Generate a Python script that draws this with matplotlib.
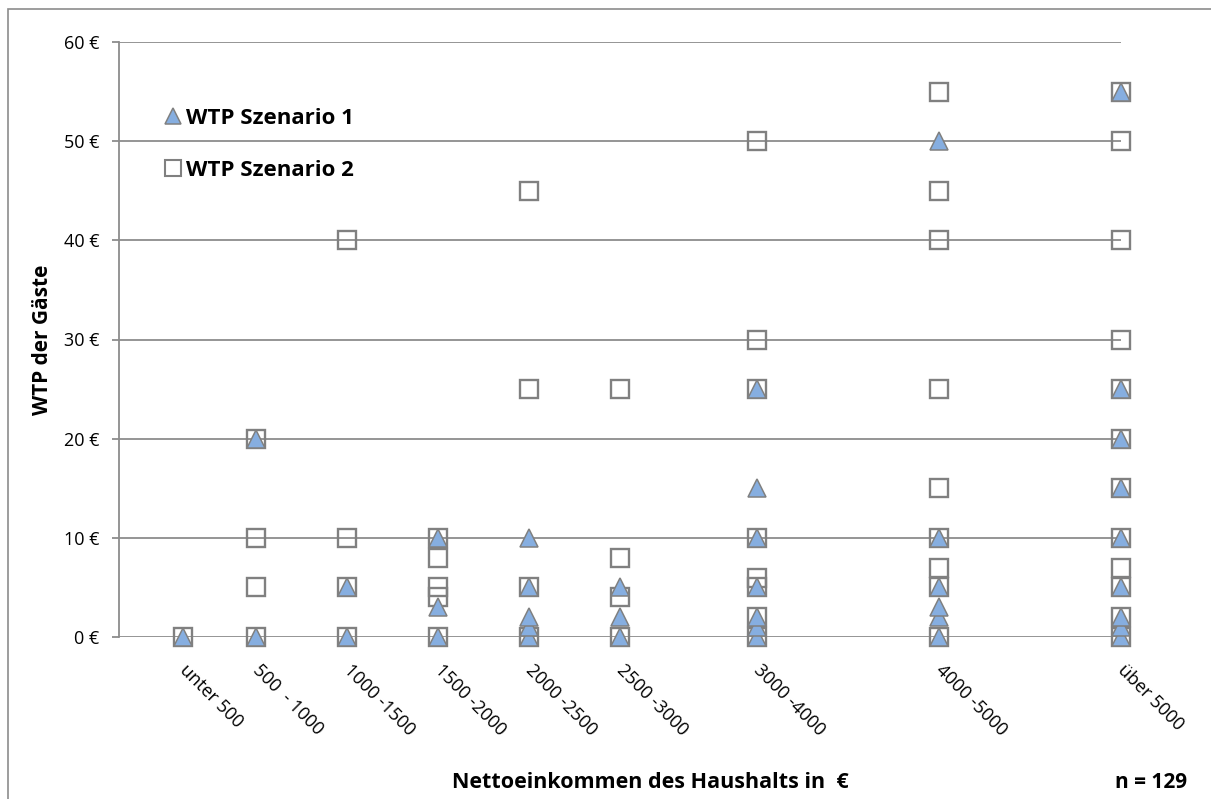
import matplotlib.pyplot as plt
from matplotlib.lines import Line2D
from matplotlib.patches import Rectangle

plt.rcParams['font.family'] = ['Open Sans', 'DejaVu Sans']

# Einkommensklassen und Lage auf der x-Achse (Klassenmitte)
kategorien = ["unter 500", "500  - 1000", "1000 -1500", "1500 -2000", "2000 -2500",
              "2500 -3000", "3000 -4000", "4000 -5000", "über 5000"]
einkommen = [350, 750, 1250, 1750, 2250, 2750, 3500, 4500, 5500]

# WTP je Einkommensklasse
wtp_szenario1 = [
    [0],
    [0, 20],
    [0, 5],
    [0, 3, 10],
    [0, 1, 2, 5, 10],
    [0, 2, 5],
    [0, 1, 2, 5, 10, 15, 25],
    [0, 2, 3, 5, 10, 50],
    [0, 1, 2, 5, 10, 15, 20, 25, 55],
]
wtp_szenario2 = [
    [0],
    [0, 5, 10, 20],
    [0, 5, 10, 40],
    [0, 4, 5, 8, 10],
    [0, 5, 25, 45],
    [0, 4, 8, 25],
    [0, 2, 5, 6, 10, 25, 30, 50],
    [0, 5, 7, 10, 15, 25, 40, 45, 55],
    [0, 2, 5, 7, 10, 15, 20, 25, 30, 40, 50, 55],
]
y_ticks = [0, 10, 20, 30, 40, 50, 60]

grau = '#808080'
blau = '#86aee0'

def flach(werte):
    xs, ys = [], []
    for x, liste in zip(einkommen, werte):
        for v in liste:
            xs.append(x)
            ys.append(v)
    return xs, ys

fig = plt.figure(figsize=(12.11, 7.99), dpi=100)
ax = fig.add_axes([119 / 1211, 1 - 637 / 799, 1002 / 1211, 595 / 799])

# Rahmen um das Diagramm
fig.patches.append(Rectangle((8 / 1211, -0.1), 1.2, 1 - 9 / 799 + 0.1,
                             transform=fig.transFigure, fill=False,
                             edgecolor='#8c8c8c', linewidth=1.2))

x2, y2 = flach(wtp_szenario2)
ax.plot(x2, y2, linestyle='none', marker='s', markersize=13.5, markerfacecolor='none',
        markeredgecolor=grau, markeredgewidth=1.7, clip_on=False, zorder=3)
x1, y1 = flach(wtp_szenario1)
ax.plot(x1, y1, linestyle='none', marker='^', markersize=13, markerfacecolor=blau,
        markeredgecolor=grau, markeredgewidth=1.1, clip_on=False, zorder=4)

ax.set_xlim(0, 5500)
ax.set_ylim(0, 60)
ax.set_yticks(y_ticks)
ax.set_yticklabels([f"{v} €" for v in y_ticks], fontsize=13)
ax.yaxis.grid(True, color='#8c8c8c', linewidth=1.3)
ax.set_axisbelow(True)
ax.tick_params(axis='y', length=5, color='#8c8c8c', width=1.3, pad=9)

ax.set_xticks(einkommen)
ax.set_xticklabels(kategorien, fontsize=13, rotation=-45, ha='left', va='center',
                   rotation_mode='anchor')
ax.tick_params(axis='x', length=0, pad=22)

for s in ['top', 'right', 'bottom']:
    ax.spines[s].set_visible(False)
ax.spines['left'].set_color('#8c8c8c')
ax.spines['left'].set_linewidth(1.3)

ax.set_ylabel("WTP der Gäste", fontsize=15, fontweight='bold')
ax.yaxis.set_label_coords(-0.066, 0.5)

fig.text(650 / 1211, 1 - 783 / 799, "Nettoeinkommen des Haushalts in  €",
         fontsize=15.5, fontweight='bold', ha='center', va='center')
fig.text(1151 / 1211, 1 - 783 / 799, "n = 129", fontsize=15, fontweight='bold',
         ha='center', va='center')

handles = [
    Line2D([], [], linestyle='none', marker='^', markersize=11.5, markerfacecolor=blau,
           markeredgecolor=grau, markeredgewidth=1.1),
    Line2D([], [], linestyle='none', marker='s', markersize=11.5, markerfacecolor='white',
           markeredgecolor=grau, markeredgewidth=1.5),
]
leg = ax.legend(handles, ["WTP Szenario 1", "WTP Szenario 2"], loc='upper left',
                bbox_to_anchor=(145 / 1211, 1 - 88 / 799), bbox_transform=fig.transFigure,
                frameon=False, handlelength=0.7, handletextpad=0.25, labelspacing=1.4,
                prop={'size': 16, 'weight': 'bold'})

fig.savefig('out.png', dpi=100)
